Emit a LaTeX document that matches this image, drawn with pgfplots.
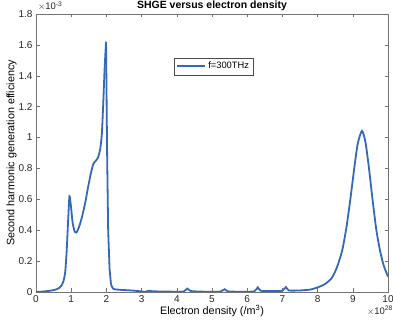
\documentclass[border=0pt]{standalone}
\usepackage{pgfplots}
\pgfplotsset{compat=1.18}
\usepackage{fontspec}
\setmainfont{Liberation Sans}
\definecolor{mblue}{RGB}{52,104,184}
\begin{document}
\begin{tikzpicture}[x=1pt,y=1pt]
\useasboundingbox (-36,-36) rectangle (357,292);
\begin{axis}[
  at={(0,0)}, anchor=south west,
  scale only axis, width=352pt, height=278pt,
  xmin=0, xmax=10, ymin=0, ymax=1.8,
  xtick={0,1,...,10}, ytick={0,0.2,...,1.8},
  yticklabels={0,0.2,0.4,0.6,0.8,1,1.2,1.4,1.6,1.8},
  tick align=inside, tick pos=both,
  major tick length=3.5pt,
  axis line style={draw=black!55, line width=0.5pt},
  every tick/.style={black!55, line width=0.5pt},
  tick label style={font=\fontsize{10}{12}\selectfont, text=black!85},
  /pgf/number format/assume math mode=true,
  xlabel={Electron density (/m\textsuperscript{3})},
  ylabel={Second harmonic generation efficiency},
  label style={font=\fontsize{10.8}{12}\selectfont},
  xlabel style={yshift=4pt},
  ylabel style={yshift=-5pt},
  title={\bfseries SHGE versus electron density},
  title style={font=\fontsize{10.5}{12}\selectfont, yshift=-6pt},
  legend style={at={(0.391,0.78)}, anchor=south west, font=\fontsize{9.3}{11}\selectfont, draw=black!70, inner sep=2.5pt},
  legend image code/.code={\draw[#1, line width=2pt] (0pt,0pt) -- (28pt,0pt);},
  legend cell align=left,
  clip=true,
]
\addplot[mblue, line width=1.8pt, smooth, tension=0.4] coordinates {
(0,0) (0.2,0.003) (0.4,0.008) (0.55,0.015) (0.65,0.025) (0.72,0.04) (0.78,0.07) (0.83,0.13) (0.87,0.26) (0.91,0.45) (0.95,0.62) (0.99,0.56) (1.04,0.45) (1.1,0.39) (1.15,0.385) (1.22,0.42) (1.3,0.48) (1.4,0.58) (1.48,0.68) (1.56,0.77) (1.63,0.83) (1.7,0.85) (1.76,0.87) (1.82,0.92) (1.87,1.02) (1.91,1.22) (1.95,1.45) (1.99,1.62)
};
\addplot[mblue, line width=1.8pt, forget plot] coordinates {
(1.99,1.62) (2.02,0.9) (2.05,0.4) (2.09,0.15) (2.13,0.05)
};
\addplot[mblue, line width=1.8pt, smooth, tension=0.4, forget plot] coordinates {
(2.13,0.05) (2.2,0.02) (2.4,0.014) (2.7,0.01) (3.0,0.004) (3.1,0.001) (3.2,0.008) (3.3,0.005) (3.6,0.003) (4.0,0.002) (4.2,0.004) (4.3,0.022) (4.4,0.006) (4.8,0.002) (5.2,0.002) (5.3,0.01) (5.36,0.018) (5.45,0.004) (5.8,0.002) (6.2,0.004) (6.3,0.03) (6.38,0.008) (6.7,0.006) (7.0,0.008) (7.1,0.032) (7.18,0.01) (7.5,0.01) (7.8,0.016) (8.0,0.03) (8.2,0.05) (8.4,0.09) (8.55,0.16) (8.7,0.27) (8.82,0.42) (8.93,0.6) (9.04,0.8) (9.14,0.96) (9.26,1.043) (9.36,0.97) (9.46,0.8) (9.56,0.6) (9.67,0.4) (9.78,0.26) (9.88,0.17) (10,0.1)
};
\legend{f=300THz}
\end{axis}
\node[anchor=south west, font=\fontsize{9.5}{11}\selectfont, text=black!85, inner sep=0pt] at (2,281) {$\times$10\textsuperscript{-3}};
\node[anchor=north east, font=\fontsize{9.5}{11}\selectfont, text=black!85, inner sep=0pt] at (357,-14) {$\times$10\textsuperscript{28}};
\end{tikzpicture}
\end{document}
